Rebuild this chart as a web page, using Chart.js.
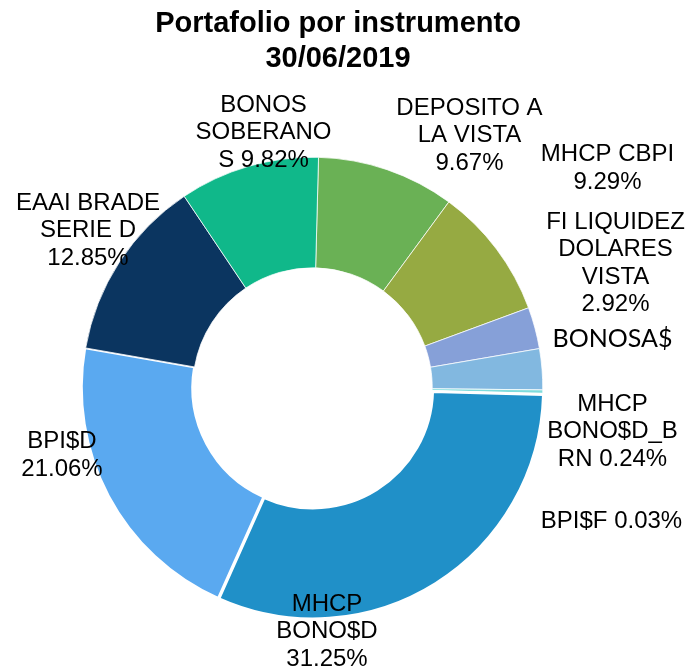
<!DOCTYPE html>
<html><head><meta charset="utf-8">
<script src="https://cdn.jsdelivr.net/npm/chart.js@4/dist/chart.umd.min.js"></script>
<style>html,body{margin:0;padding:0;background:#fff}#wrap{width:687px;height:670px;position:relative}</style>
</head><body><div id="wrap"><canvas id="c"></canvas></div>
<script>
const titleLines = ['Portafolio por instrumento', '30/06/2019'];
const categories = ['DEPOSITO A LA VISTA', 'MHCP CBPI', 'FI LIQUIDEZ DOLARES VISTA', 'BONOSA$', 'MHCP BONO$D_BRN', 'BPI$F', 'MHCP BONO$D', 'BPI$D', 'EAAI BRADE SERIE D', 'BONOS SOBERANOS'];
const values = [9.67, 9.29, 2.92, 2.87, 0.24, 0.03, 31.25, 21.06, 12.85, 9.82];
const sliceColors = ['#6ab155', '#96aa42', '#86a0d8', '#82b8e0', '#80dcdc', '#ffffff', '#2090c8', '#5aa9f0', '#0b3560', '#10b88a'];
const labelLines = [
  ['DEPOSITO A', 'LA VISTA', '9.67%'],
  ['MHCP CBPI', '9.29%'],
  ['FI LIQUIDEZ', 'DOLARES', 'VISTA', '2.92%'],
  ['BONOSA$'],
  ['MHCP', 'BONO$D_B', 'RN 0.24%'],
  ['BPI$F 0.03%'],
  ['MHCP', 'BONO$D', '31.25%'],
  ['BPI$D', '21.06%'],
  ['EAAI BRADE', 'SERIE D', '12.85%'],
  ['BONOS', 'SOBERANO', 'S 9.82%']
];
const labelOffsets = [[157,-252],[295,-219],[303,-124],[300,-49],[300,44],[299,134],[14.5,244],[-250.5,68],[-224.5,-157],[-49,-255]];
const sliceOffsets = [0,0,0,0,0,0,4,2,0,0];
const sliceBorders = [0.75,0.75,0.75,0.75,0.75,0.75,2.5,2,0.75,0.75];

const labelPlugin = {
  id: 'outLabels',
  afterDraw(chart) {
    const ctx = chart.ctx;
    const meta = chart.getDatasetMeta(0);
    ctx.save();
    ctx.fillStyle = '#000';
    ctx.textAlign = 'center';
    ctx.textBaseline = 'middle';
    ctx.font = 'bold 29px "Liberation Sans", Arial, sans-serif';
    ctx.fillText(titleLines[0], 338, 24);
    ctx.fillText(titleLines[1], 338, 59);
    meta.data.forEach((arc, i) => {
      const lines = labelLines[i];
      const cx = arc.x + labelOffsets[i][0];
      const cy = arc.y + labelOffsets[i][1];
      ctx.font = categories[i] === 'BONOSA$' ? '25px Lato, "Open Sans", sans-serif' : '24px "Liberation Sans", Arial, sans-serif';
      const lh = 27.5;
      const y0 = cy - (lines.length - 1) * lh / 2;
      lines.forEach((t, k) => ctx.fillText(t, cx, y0 + k * lh));
    });
    ctx.restore();
  }
};

new Chart(document.getElementById('c'), {
  type: 'doughnut',
  data: {
    labels: categories,
    datasets: [{
      data: values,
      backgroundColor: sliceColors,
      borderColor: '#ffffff',
      borderWidth: sliceBorders,
      offset: sliceOffsets
    }]
  },
  options: {
    responsive: true,
    maintainAspectRatio: false,
    animation: false,
    rotation: 1.5,
    cutout: '52%',
    layout: { padding: { left: 79, right: 141, top: 154, bottom: 49 } },
    plugins: { legend: { display: false }, title: { display: false }, tooltip: { enabled: false } }
  },
  plugins: [labelPlugin]
});
</script>
</body></html>
